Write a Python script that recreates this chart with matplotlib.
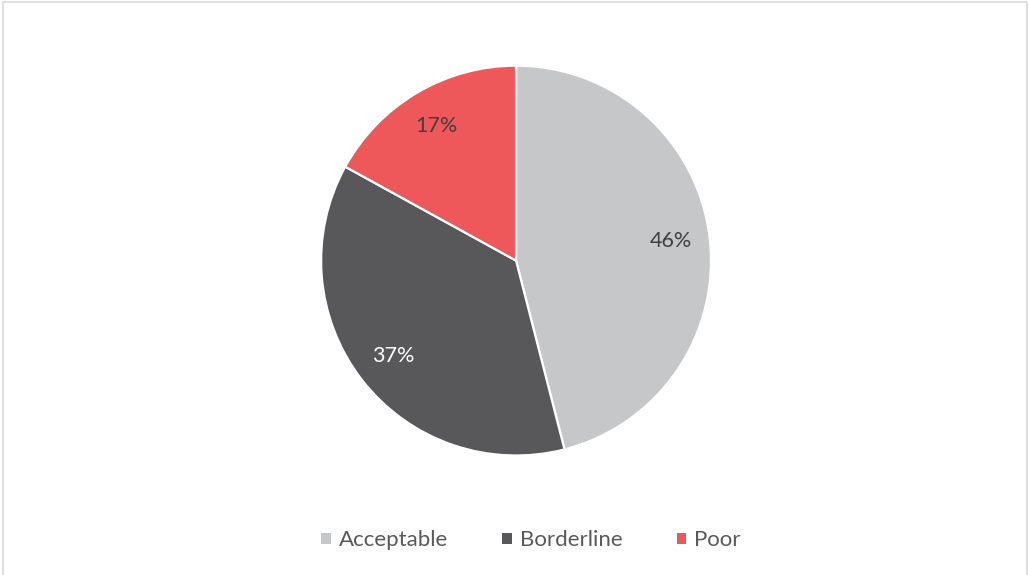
import matplotlib
matplotlib.use("Agg")
import matplotlib.pyplot as plt
from matplotlib.patches import Patch, Rectangle

# share of ratings per category
categories = ["Acceptable", "Borderline", "Poor"]
shares = [46, 37, 17]
colors = ["#C6C7C9", "#58585B", "#EF585A"]
label_colors = ["#404040", "#FFFFFF", "#404040"]

plt.rcParams["font.family"] = ["Lato", "DejaVu Sans"]

fig = plt.figure(figsize=(10.29, 5.75), dpi=100)
ax = fig.add_axes([0.312, 0.2078, 0.379, 0.678])

wedges, texts, autotexts = ax.pie(
    shares,
    colors=colors,
    startangle=90,
    counterclock=False,
    autopct="%.0f%%",
    pctdistance=0.8,
    wedgeprops=dict(edgecolor="white", linewidth=1.6),
    textprops=dict(fontsize=15.5),
)
for t, c in zip(autotexts, label_colors):
    t.set_color(c)
ax.set_xlim(-1, 1)
ax.set_ylim(-1, 1)
ax.set_aspect("equal")

# legend along the bottom with small square keys
handles = [Patch(facecolor=c, edgecolor="none") for c in colors]
fig.legend(handles, categories, loc="center", bbox_to_anchor=(0.516, 0.06),
           ncol=3, frameon=False, fontsize=16, labelcolor="#595959",
           handlelength=0.42, handleheight=0.42, handletextpad=0.36,
           columnspacing=2.45)

# thin grey chart border
fig.patches.append(Rectangle((2.5 / 1029, -0.1), 1024.5 / 1029, 1.1 - 2.5 / 575,
                             transform=fig.transFigure, fill=False,
                             edgecolor="#D9D9D9", linewidth=1.2))

fig.savefig("out.png", dpi=100)
